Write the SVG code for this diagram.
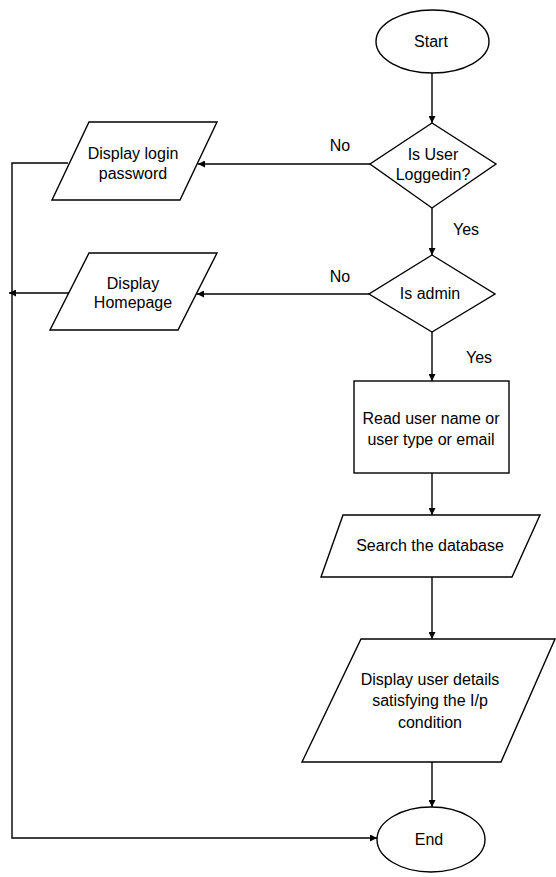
<svg xmlns="http://www.w3.org/2000/svg" width="556" height="877" viewBox="0 0 556 877">
<defs>
<marker id="arr" viewBox="0 0 10 10" refX="10" refY="5" markerWidth="7" markerHeight="7" markerUnits="userSpaceOnUse" orient="auto">
<path d="M0,0 L10,5 L0,10 z" fill="#000"/>
</marker>
</defs>
<style>
.shape{fill:#fff;stroke:#000;stroke-width:1.4}
.conn{fill:none;stroke:#000;stroke-width:1.4}
text{font-family:"Liberation Sans",Arial,sans-serif;font-size:16px;fill:#000;text-anchor:middle}
</style>
<rect width="556" height="877" fill="#fff"/>
<g id="connectors">
<path class="conn" d="M432,73 L432,123" marker-end="url(#arr)"/>
<path class="conn" d="M370,164 L198,164" marker-end="url(#arr)"/>
<path class="conn" d="M432,208 L432,255" marker-end="url(#arr)"/>
<path class="conn" d="M369,294 L197,294" marker-end="url(#arr)"/>
<path class="conn" d="M432,332 L432,381" marker-end="url(#arr)"/>
<path class="conn" d="M432,473 L432,515" marker-end="url(#arr)"/>
<path class="conn" d="M432,577 L432,639" marker-end="url(#arr)"/>
<path class="conn" d="M432,762 L432,807" marker-end="url(#arr)"/>
<path class="conn" d="M68,163 L12,163 L12,838 L377,838" marker-end="url(#arr)"/>
<path class="conn" d="M69,293 L9,293" marker-end="url(#arr)"/>
<text x="340" y="151">No</text>
<text x="466" y="235">Yes</text>
<text x="340" y="282">No</text>
<text x="479" y="363">Yes</text>
</g>
<g id="start">
<ellipse class="shape" cx="432.5" cy="41.5" rx="56.5" ry="31.5"/>
<text x="431" y="47">Start</text>
</g>
<g id="isLoggedIn">
<polygon class="shape" points="432,123 496,164 432,208 370,164"/>
<text x="433" y="160">Is User</text>
<text x="433" y="180">Loggedin?</text>
</g>
<g id="displayLogin">
<polygon class="shape" points="89,122 217,122 180,200 52,200"/>
<text x="133" y="159">Display login</text>
<text x="133" y="179">password</text>
</g>
<g id="isAdmin">
<polygon class="shape" points="432,255 495,294 432,332 369,294"/>
<text x="430" y="299">Is admin</text>
</g>
<g id="displayHomepage">
<polygon class="shape" points="89,253 217,253 178,330 50,330"/>
<text x="133" y="289">Display</text>
<text x="133" y="308">Homepage</text>
</g>
<g id="readUser">
<rect class="shape" x="354" y="381" width="155" height="92"/>
<text x="431" y="424">Read user name or</text>
<text x="431" y="445">user type or email</text>
</g>
<g id="searchDb">
<polygon class="shape" points="343,515 540,515 512,577 321,577"/>
<text x="430" y="551">Search the database</text>
</g>
<g id="displayDetails">
<polygon class="shape" points="361,639 555,639 501,762 302,762"/>
<text x="430" y="685">Display user details</text>
<text x="430" y="706">satisfying the I/p</text>
<text x="430" y="728">condition</text>
</g>
<g id="end">
<ellipse class="shape" cx="431" cy="839.5" rx="54" ry="32.5"/>
<text x="429" y="845">End</text>
</g>
</svg>
